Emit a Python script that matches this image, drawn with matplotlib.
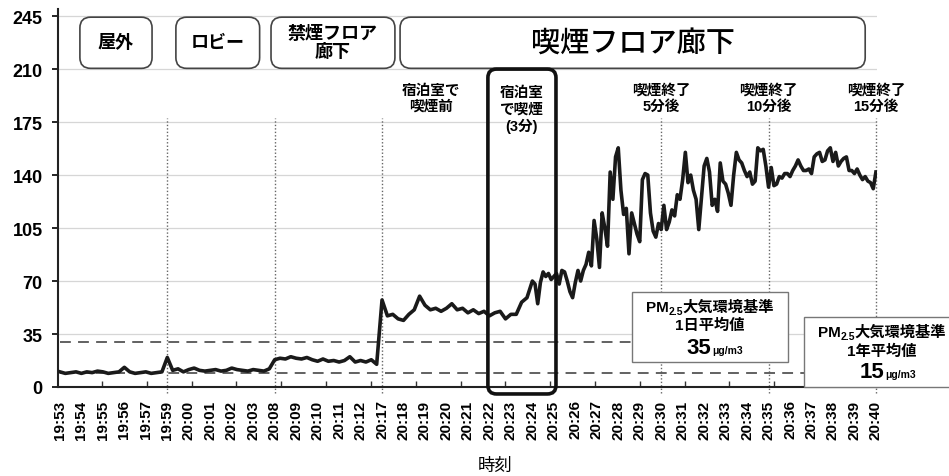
import numpy as np
import matplotlib
matplotlib.use('Agg')
import matplotlib.pyplot as plt
from matplotlib.patches import FancyBboxPatch, Rectangle

plt.rcParams['font.family'] = ['Liberation Sans', 'Noto Sans CJK JP', 'DejaVu Sans']

# ---------------- data ----------------
time_labels = ['19:53', '19:54', '19:55', '19:56', '19:57', '19:59', '20:00', '20:01',
               '20:02', '20:03', '20:08', '20:09', '20:10', '20:11', '20:12', '20:17',
               '20:18', '20:19', '20:20', '20:21', '20:22', '20:23', '20:24', '20:25',
               '20:26', '20:27', '20:28', '20:29', '20:30', '20:31', '20:32', '20:33',
               '20:34', '20:35', '20:36', '20:37', '20:38', '20:39', '20:40']

y_ticks = [0, 35, 70, 105, 140, 175, 210, 245]

# PM2.5 (µg/m3). Coarse samples (4 per label step) from 19:53 up to 20:24,
# fine samples (8 per label step) from 20:24 to 20:40.
pm25_outdoor = [10, 9, 9.5, 10, 9, 10, 9.5, 10.5, 10, 9, 9.5, 10, 13, 10, 9, 9.5, 10, 9, 9.5, 10, 19.5]
pm25_lobby = [11, 12, 10, 11.5, 12.5, 11, 10.5, 11, 11.5, 10.5, 11, 12.5, 11.5, 11, 10.5, 11.5, 11, 10.5, 12, 18]
pm25_nonsmoking = [19, 18.5, 20, 19, 18.5, 19.5, 18, 17, 18.5, 17, 17.5, 16.5, 17.5, 20, 16.5, 17.5, 16.5, 18, 15, 57.5]
pm25_smoking_pre = [47, 48, 45, 44, 48, 51, 60, 54, 51, 52, 50, 52, 55, 51, 52, 49, 51, 48.5, 50, 47,
                    49, 50, 45, 48, 48, 56, 59]
pm25_smoking_fine = [
    70, 68, 55, 69, 76, 73, 75, 71,
    73, 75, 68, 77, 76, 70, 63, 59,
    69, 77, 70, 77, 81, 89, 80, 110,
    98, 79, 115, 105, 93, 142, 124, 152,
    158, 130, 114, 118, 88, 115, 108, 101,
    96, 137, 141, 140, 115, 103, 99, 108,
    104, 120, 104, 109, 117, 113, 127, 124,
    137, 155, 135, 140, 130, 124, 104, 125,
    146, 151, 142, 120, 124, 116, 148, 136,
    134, 128, 120, 140, 155, 150, 148, 143,
    139, 142, 134, 136, 158, 156, 157, 146,
    132, 145, 133, 134, 139, 138, 141, 141,
    139, 143, 146, 150, 146, 143, 143, 144,
    141, 152, 154, 155, 149, 150, 156, 158,
    149, 155, 146, 149, 151, 152, 143, 143,
    141, 144, 140, 137, 139, 136, 135, 131,
    142]

location_names = ['屋外', 'ロビー', '禁煙フロア\n廊下', '喫煙フロア廊下']
location_spans = [(0.93, 4.29), (5.4, 9.3), (9.83, 15.6), (15.84, 37.5)]

marker_times = ['19:59', '20:08', '20:17', '20:30', '20:35', '20:40']
event_labels = ['宿泊室で\n喫煙前', '喫煙終了\n5分後', '喫煙終了\n10分後', '喫煙終了\n15分後']
event_pos = [17.3, 28, 33, 38]
smoking_label = '宿泊室\nで喫煙\n(3分)'
smoking_span = (19.93, 23.1)

std_line_levels = [29.7, 9.3]       # dashed lines as drawn
std_titles = ['1日平均値', '1年平均値']
std_values = ['35', '15']

pm25_coarse = pm25_outdoor + pm25_lobby + pm25_nonsmoking + pm25_smoking_pre
fine_start = time_labels.index('20:24')
x_coarse = np.linspace(0, fine_start, len(pm25_coarse) + 1)[:-1]
x_fine = np.linspace(fine_start, len(time_labels) - 1, len(pm25_smoking_fine))
x = np.concatenate([x_coarse, x_fine])
pm25 = pm25_coarse + pm25_smoking_fine

# ---------------- figure ----------------
W, H = 949, 477
fig = plt.figure(figsize=(W / 100, H / 100), dpi=100)
ax = fig.add_axes([58 / W, 89 / H, (877 - 58) / W, (467 - 89) / H])

xlim = (-0.09, 38.05)
ylim = (0, 249.7)
ax.set_xlim(*xlim)
ax.set_ylim(*ylim)

ax.plot(x, pm25, color='#1a1a1a', lw=2.6, solid_joinstyle='round', zorder=4)

# grid & axes styling
ax.set_yticks(y_ticks)
ax.set_yticklabels([str(v) for v in y_ticks], fontsize=13, fontweight='bold')
ax.yaxis.grid(True, color='#d6d6d6', lw=0.9)
ax.set_axisbelow(True)
ax.set_xticks(range(len(time_labels)))
ax.set_xticklabels(time_labels, rotation=90, fontsize=11, fontweight='bold')
ax.tick_params(axis='x', which='major', length=0, pad=9)
ax.set_xticks(np.arange(1.96, 38.5, 2.087), minor=True)
ax.tick_params(axis='x', which='minor', direction='in', length=4, width=1, color='#333')
ax.tick_params(axis='y', length=4, width=1.2, pad=7)
for s in ['top', 'right']:
    ax.spines[s].set_visible(False)
for s in ['left', 'bottom']:
    ax.spines[s].set_linewidth(1.5)
    ax.spines[s].set_color('#222')

# dotted event lines
for t in marker_times:
    i = time_labels.index(t)
    ax.plot([i, i], [-4, 178], ls=(0, (1, 1.5)), color='#666', lw=1.0, clip_on=False, zorder=2)

# dashed standard lines
ax.plot([0, 26.6], [std_line_levels[0]] * 2, ls=(0, (6, 4)), color='#555', lw=1.3, zorder=3)
ax.plot([0, 38.05], [std_line_levels[1]] * 2, ls=(0, (6, 4)), color='#555', lw=1.3, zorder=3)

# aspect for rounded corners
bb = ax.get_window_extent()
sx = bb.width / (xlim[1] - xlim[0])
sy = bb.height / (ylim[1] - ylim[0])
m = sx / sy

# location boxes
for name, (a, b) in zip(location_names, location_spans):
    p = FancyBboxPatch((a, 210.5), b - a, 33.8, boxstyle='round,pad=0,rounding_size=0.5',
                       mutation_aspect=m, fc='white', ec='#444', lw=1.2, clip_on=False, zorder=5)
    ax.add_patch(p)
    big = name == '喫煙フロア廊下'
    ax.text((a + b) / 2, 227.5, name, ha='center', va='center',
            fontsize=21 if big else 13, fontweight='medium' if big else 'bold',
            linespacing=1.05, zorder=6)

# event labels
for lab, pos in zip(event_labels, event_pos):
    ax.text(pos, 191, lab, ha='center', va='center', fontsize=10.5, fontweight='bold',
            linespacing=1.2, zorder=6)

# smoking period box
a, b = smoking_span
p = FancyBboxPatch((a, -4.6), b - a, 214.6, boxstyle='round,pad=0,rounding_size=0.4',
                   mutation_aspect=m, fc='none', ec='#111', lw=2.6, clip_on=False, zorder=6)
ax.add_patch(p)
ax.text((a + b) / 2, 183.5, smoking_label, ha='center', va='center', fontsize=10.5,
        fontweight='bold', linespacing=1.2, zorder=6)

# standard boxes (figure coords)
def fx(px):
    return px / W

def fy(py):
    return (H - py) / H

renderer = fig.canvas.get_renderer()

def centered_row(cx_px, base_py, parts):
    texts = []
    for s, size, dy in parts:
        t = fig.text(0, fy(base_py + dy), s, ha='left', va='baseline', fontsize=size,
                     fontweight='bold', zorder=11)
        texts.append(t)
    widths = [t.get_window_extent(renderer).width for t in texts]
    xp = cx_px - sum(widths) / 2
    for t, w in zip(texts, widths):
        t.set_x(fx(xp))
        xp += w

boxes = [
    dict(x0=632, x1=788, y0=293, y1=363, cx=710, l1=312, l2=330, base=354, split=711),
    dict(x0=804, x1=965, y0=318, y1=388, cx=882, l1=337, l2=356, base=378, split=884),
]
for bx, title, val in zip(boxes, std_titles, std_values):
    fig.patches.append(Rectangle((fx(bx['x0']), fy(bx['y1'])), fx(bx['x1']) - fx(bx['x0']),
                                 fy(bx['y0']) - fy(bx['y1']), transform=fig.transFigure,
                                 fc='white', ec='#777', lw=1.0, zorder=10))
    centered_row(bx['cx'], bx['l1'], [('PM', 11, 0), ('2.5', 7.5, 3), ('大気環境基準', 11, 0)])
    centered_row(bx['cx'], bx['l2'], [(title, 11, 0)])
    fig.text(fx(bx['split']), fy(bx['base']), val, ha='right', va='baseline', fontsize=16,
             fontweight='bold', zorder=11)
    fig.text(fx(bx['split'] + 1), fy(bx['base']), 'μg/m3', ha='left', va='baseline',
             fontsize=7.5, fontweight='bold', zorder=11)

fig.text(495 / W, fy(466), '時刻', ha='center', va='center', fontsize=12.5)

fig.savefig('out.png', dpi=100)
